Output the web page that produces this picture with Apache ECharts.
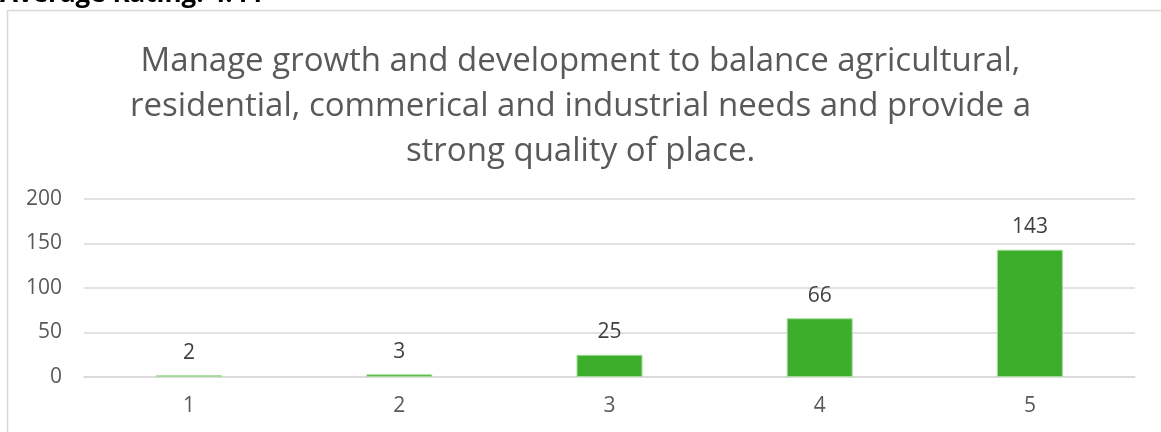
<!DOCTYPE html>
<html>
<head>
<meta charset="utf-8">
<style>
  html, body { margin: 0; padding: 0; background: #ffffff; }
  #main { width: 1161px; height: 432px; }
</style>
<script src="https://cdn.jsdelivr.net/npm/echarts@6/dist/echarts.min.js"></script>
</head>
<body>
<div id="main"></div>
<script>
var categories = ['1', '2', '3', '4', '5'];
var counts = [2, 3, 25, 66, 143];
var yTicks = { min: 0, max: 200, interval: 50 };
var chartTitle = 'Manage growth and development to balance agricultural,\nresidential, commerical and industrial needs and provide a\nstrong quality of place.';
var headerText = 'Average Rating: 4.44';

var myChart = echarts.init(document.getElementById('main'));
var option = {
    backgroundColor: '#ffffff',
    animation: false,
    title: {
        text: chartTitle,
        left: 'center',
        top: 34,
        textStyle: {
            fontFamily: 'Open Sans',
            fontWeight: 'normal',
            fontSize: 33,
            lineHeight: 45,
            color: '#595959'
        }
    },
    graphic: [
        {
            type: 'polyline',
            shape: { points: [[7.5, 432], [7.5, 10.5], [1161, 10.5]] },
            style: { stroke: '#d9d9d9', lineWidth: 1.5, fill: null }
        },
        {
            type: 'text',
            x: 0,
            y: 8,
            style: {
                text: headerText,
                font: 'bold 26px "Open Sans"',
                fill: '#000000',
                verticalAlign: 'bottom'
            }
        }
    ],
    grid: { left: 84, right: 26, top: 199, bottom: 55 },
    xAxis: {
        type: 'category',
        data: categories,
        axisTick: { show: false },
        axisLine: { lineStyle: { color: '#d9d9d9', width: 1.5 } },
        axisLabel: { color: '#595959', fontSize: 21, fontFamily: 'Open Sans', margin: 19 }
    },
    yAxis: {
        type: 'value',
        min: yTicks.min,
        max: yTicks.max,
        interval: yTicks.interval,
        axisLine: { show: false },
        axisTick: { show: false },
        splitLine: { lineStyle: { color: '#d9d9d9', width: 1.5 } },
        axisLabel: { color: '#595959', fontSize: 21, fontFamily: 'Open Sans', margin: 22 }
    },
    series: [{
        type: 'bar',
        data: counts,
        barWidth: 66,
        itemStyle: { color: '#3dae2b', borderColor: '#a6dc9a', borderWidth: 1 },
        label: {
            show: true,
            position: 'top',
            distance: 12,
            color: '#404040',
            fontSize: 21,
            fontFamily: 'Open Sans'
        }
    }]
};
myChart.clear();
myChart.setOption(option);
</script>
</body>
</html>
